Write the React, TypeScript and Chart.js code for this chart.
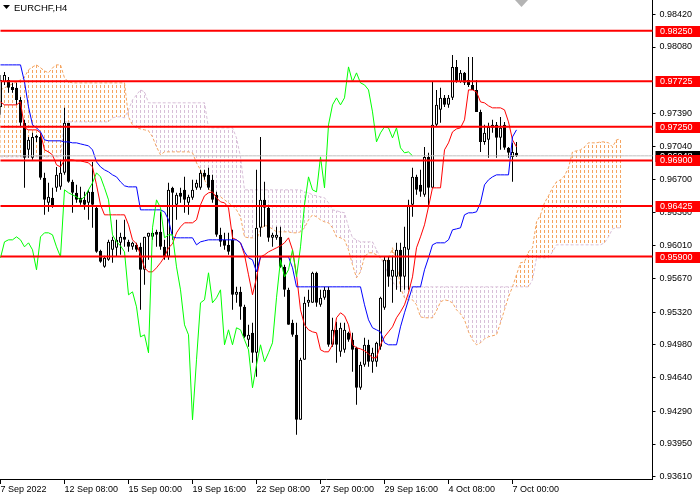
import { useEffect, useRef } from 'react';
import { Chart, registerables } from 'chart.js';

Chart.register(...registerables);

// EURCHF H4 candles, 7 Sep 16:00 .. 7 Oct 04:00
const opens = [
  0.97457, 0.97717, 0.97738, 0.97665, 0.97655, 0.97530, 0.97291, 0.97010, 0.96927, 0.97156,
  0.97145, 0.96719, 0.96459, 0.96511, 0.96615, 0.96625, 0.96771, 0.97291, 0.96677, 0.96563,
  0.96511, 0.96490, 0.96459, 0.96573, 0.96407, 0.95960, 0.95793, 0.95866, 0.95970, 0.95991,
  0.96043, 0.96105, 0.96053, 0.96001, 0.96022, 0.96001, 0.95762, 0.96105, 0.96105, 0.96157,
  0.96157, 0.96001, 0.95897, 0.96615, 0.96438, 0.96563, 0.96594, 0.96459, 0.96511, 0.96615,
  0.96615, 0.96771, 0.96750, 0.96698, 0.96542, 0.96126, 0.96074, 0.96022, 0.96074, 0.95502,
  0.95533, 0.95377, 0.95034, 0.95107, 0.94899, 0.96199, 0.96490, 0.96407, 0.96095, 0.96095,
  0.96105, 0.95793, 0.95554, 0.95211, 0.95086, 0.94202, 0.94826, 0.95419, 0.95419, 0.95731,
  0.95398, 0.95471, 0.95554, 0.94982, 0.95138, 0.94909, 0.94930, 0.95107, 0.95034, 0.94951,
  0.94535, 0.94774, 0.94982, 0.94805, 0.94805, 0.94961, 0.95367, 0.95866, 0.95689, 0.95689,
  0.95970, 0.95689, 0.95970, 0.96438, 0.96729, 0.96646, 0.96542, 0.96937, 0.96615, 0.97270,
  0.97426, 0.97551, 0.97478, 0.97551, 0.97873, 0.97717, 0.97811, 0.97738, 0.97686, 0.97634,
  0.97405, 0.97093, 0.97114, 0.97270, 0.97270, 0.97135, 0.97270, 0.97031, 0.96937, 0.96979,
];
const highs = [
  0.97790, 0.97821, 0.97769, 0.97707, 0.97707, 0.97561, 0.97322, 0.97145, 0.97187, 0.97166,
  0.97187, 0.96771, 0.96667, 0.96615, 0.96833, 0.96906, 0.97447, 0.97291, 0.96698, 0.96646,
  0.96625, 0.96573, 0.96594, 0.96885, 0.96417, 0.95970, 0.95908, 0.96074, 0.96105, 0.96282,
  0.96147, 0.96282, 0.96074, 0.96053, 0.96043, 0.96043, 0.96105, 0.96147, 0.96168, 0.96178,
  0.96365, 0.96074, 0.96667, 0.96625, 0.96563, 0.96615, 0.96729, 0.96542, 0.96698, 0.96698,
  0.96802, 0.96802, 0.96823, 0.96750, 0.96573, 0.96199, 0.96147, 0.96147, 0.96178, 0.95585,
  0.95585, 0.95398, 0.95190, 0.95211, 0.96802, 0.97145, 0.96677, 0.96438, 0.96147, 0.96209,
  0.96209, 0.95814, 0.95575, 0.95242, 0.95211, 0.94847, 0.95481, 0.95554, 0.95741, 0.95741,
  0.95554, 0.95585, 0.95585, 0.95263, 0.95221, 0.95211, 0.95211, 0.95117, 0.95107, 0.94961,
  0.94805, 0.95055, 0.95034, 0.94951, 0.95013, 0.95481, 0.95897, 0.95897, 0.95897, 0.96043,
  0.96043, 0.96209, 0.96490, 0.96823, 0.96750, 0.96802, 0.97041, 0.96979, 0.97717, 0.97634,
  0.97655, 0.97582, 0.97582, 0.97998, 0.97946, 0.97842, 0.97821, 0.97977, 0.97977, 0.97738,
  0.97426, 0.97270, 0.97291, 0.97322, 0.97301, 0.97353, 0.97301, 0.97041, 0.97083, 0.97093,
];
const lows = [
  0.97374, 0.97686, 0.97603, 0.97603, 0.97478, 0.97249, 0.96615, 0.96927, 0.96906, 0.97093,
  0.96698, 0.96334, 0.96365, 0.96407, 0.96573, 0.96594, 0.96750, 0.96667, 0.96355, 0.96459,
  0.96438, 0.96386, 0.96282, 0.96199, 0.95939, 0.95835, 0.95783, 0.95856, 0.95835, 0.95897,
  0.95918, 0.96001, 0.95949, 0.95970, 0.95949, 0.95346, 0.95606, 0.95866, 0.96074, 0.96001,
  0.95970, 0.95866, 0.95866, 0.96074, 0.96282, 0.96459, 0.96355, 0.96334, 0.96490, 0.96594,
  0.96594, 0.96698, 0.96594, 0.96459, 0.96105, 0.96001, 0.95970, 0.95918, 0.95346, 0.95419,
  0.95242, 0.95055, 0.94961, 0.94795, 0.94649, 0.96105, 0.96209, 0.96053, 0.96001, 0.96074,
  0.95783, 0.95481, 0.95190, 0.95065, 0.94046, 0.94202, 0.94826, 0.95377, 0.95419, 0.95377,
  0.95377, 0.95450, 0.94961, 0.94961, 0.94795, 0.94857, 0.94899, 0.95013, 0.94701, 0.94358,
  0.94514, 0.94753, 0.94753, 0.94691, 0.94753, 0.94930, 0.95346, 0.95585, 0.95419, 0.95554,
  0.95533, 0.95554, 0.95554, 0.96313, 0.96542, 0.96521, 0.96521, 0.96417, 0.96615, 0.97249,
  0.97291, 0.97457, 0.97447, 0.97530, 0.97707, 0.97707, 0.97686, 0.97665, 0.97634, 0.97405,
  0.96989, 0.97062, 0.96927, 0.97187, 0.96927, 0.97010, 0.97010, 0.96927, 0.96677, 0.96937,
];
const closes = [
  0.97738, 0.97790, 0.97655, 0.97634, 0.97530, 0.97291, 0.96927, 0.97114, 0.97145, 0.97135,
  0.96719, 0.96490, 0.96521, 0.96417, 0.96750, 0.96771, 0.97291, 0.96677, 0.96563, 0.96490,
  0.96459, 0.96438, 0.96573, 0.96438, 0.95949, 0.95845, 0.95887, 0.96053, 0.96074, 0.96074,
  0.96105, 0.96074, 0.96001, 0.96043, 0.95970, 0.95762, 0.96105, 0.96147, 0.96147, 0.96126,
  0.96001, 0.95897, 0.96594, 0.96563, 0.96542, 0.96521, 0.96490, 0.96521, 0.96594, 0.96667,
  0.96771, 0.96729, 0.96615, 0.96490, 0.96126, 0.96053, 0.96012, 0.95949, 0.95502, 0.95533,
  0.95377, 0.95065, 0.95086, 0.94899, 0.96199, 0.96490, 0.96407, 0.96095, 0.96126, 0.96126,
  0.95793, 0.95554, 0.95190, 0.95086, 0.94202, 0.94826, 0.95419, 0.95450, 0.95731, 0.95419,
  0.95471, 0.95554, 0.94982, 0.95138, 0.94982, 0.95159, 0.95138, 0.95034, 0.94930, 0.94535,
  0.94774, 0.94982, 0.94805, 0.94899, 0.95003, 0.95471, 0.95866, 0.95689, 0.95762, 0.95970,
  0.95689, 0.96001, 0.96438, 0.96729, 0.96594, 0.96573, 0.96937, 0.96615, 0.97270, 0.97478,
  0.97551, 0.97478, 0.97551, 0.97873, 0.97717, 0.97811, 0.97707, 0.97686, 0.97634, 0.97405,
  0.97093, 0.97187, 0.97249, 0.97239, 0.97135, 0.97239, 0.97031, 0.96979, 0.96989, 0.96948,
];

// Ichimoku lines
const tenkan = [
  0.97509, 0.97478, 0.97478, 0.97478, 0.97478, 0.97509, 0.97239, 0.97218, 0.97218, 0.97218,
  0.97187, 0.97010, 0.96989, 0.96958, 0.96854, 0.96833, 0.96906, 0.96906, 0.96906, 0.96896,
  0.96896, 0.96885, 0.96875, 0.96833, 0.96646, 0.96438, 0.96334, 0.96334, 0.96334, 0.96334,
  0.96334, 0.96334, 0.96230, 0.96074, 0.96032, 0.95918, 0.95783, 0.95741, 0.95741, 0.95783,
  0.95835, 0.95897, 0.95991, 0.96032, 0.96147, 0.96209, 0.96251, 0.96251, 0.96251, 0.96282,
  0.96438, 0.96532, 0.96563, 0.96573, 0.96511, 0.96469, 0.96459, 0.96407, 0.96095, 0.96074,
  0.96043, 0.95918, 0.95710, 0.95502, 0.95679, 0.95897, 0.95918, 0.95949, 0.95970, 0.95991,
  0.96012, 0.96043, 0.96095, 0.95970, 0.95710, 0.95346, 0.95190, 0.95138, 0.95117, 0.95107,
  0.94930, 0.94909, 0.94909, 0.94982, 0.95263, 0.95315, 0.95284, 0.95190, 0.94982, 0.94951,
  0.94940, 0.94920, 0.94888, 0.94847, 0.94847, 0.94982, 0.95065, 0.95117, 0.95169, 0.95263,
  0.95325, 0.95398, 0.95523, 0.95689, 0.95991, 0.96105, 0.96230, 0.96417, 0.96615, 0.96615,
  0.96615, 0.97010, 0.97083, 0.97197, 0.97228, 0.97239, 0.97322, 0.97634, 0.97634, 0.97613,
  0.97509, 0.97499, 0.97468, 0.97447, 0.97447, 0.97447, 0.97426, 0.97301, 0.97114, 0.97041,
];
const kijun = [
  0.97894, 0.97894, 0.97894, 0.97894, 0.97894, 0.97894, 0.97717, 0.97457, 0.97270, 0.97239,
  0.97197, 0.97114, 0.97104, 0.97104, 0.97104, 0.97104, 0.97093, 0.97093, 0.97083, 0.97083,
  0.97072, 0.97062, 0.97052, 0.97010, 0.96885, 0.96833, 0.96802, 0.96781, 0.96750, 0.96729,
  0.96677, 0.96636, 0.96625, 0.96625, 0.96625, 0.96386, 0.96386, 0.96386, 0.96386, 0.96386,
  0.96386, 0.96365, 0.96282, 0.96105, 0.96095, 0.96095, 0.96095, 0.96095, 0.96095, 0.96022,
  0.96053, 0.96064, 0.96074, 0.96074, 0.96074, 0.96074, 0.96074, 0.96074, 0.96074, 0.96074,
  0.96043, 0.95949, 0.95887, 0.95866, 0.95741, 0.95897, 0.95897, 0.95897, 0.95897, 0.95897,
  0.95897, 0.95897, 0.95897, 0.95783, 0.95585, 0.95585, 0.95585, 0.95585, 0.95585, 0.95585,
  0.95585, 0.95585, 0.95585, 0.95585, 0.95585, 0.95585, 0.95585, 0.95585, 0.95585, 0.95585,
  0.95585, 0.95398, 0.95242, 0.95159, 0.95138, 0.95117, 0.95003, 0.94982, 0.94982, 0.94982,
  0.95169, 0.95315, 0.95450, 0.95585, 0.95585, 0.95585, 0.95762, 0.95887, 0.96022, 0.96043,
  0.96043, 0.96043, 0.96074, 0.96178, 0.96188, 0.96199, 0.96334, 0.96355, 0.96355, 0.96365,
  0.96459, 0.96646, 0.96698, 0.96729, 0.96750, 0.96750, 0.96750, 0.96750, 0.97145, 0.97218,
];
// Senkou spans run 26 bars past the last candle
const spanA = [
  0.97634, 0.97655, 0.97676, 0.97696, 0.97717, 0.97738, 0.97769, 0.97842, 0.97873, 0.97894,
  0.97863, 0.97832, 0.97811, 0.97863, 0.97894, 0.97894, 0.97759, 0.97717, 0.97707, 0.97707,
  0.97707, 0.97707, 0.97707, 0.97707, 0.97707, 0.97707, 0.97707, 0.97707, 0.97707, 0.97707,
  0.97707, 0.97707, 0.97353, 0.97270, 0.97239, 0.97228, 0.97218, 0.97208, 0.97145, 0.97041,
  0.96958, 0.96989, 0.96989, 0.96989, 0.96989, 0.96989, 0.96989, 0.96989, 0.96979, 0.96875,
  0.96802, 0.96698, 0.96615, 0.96552, 0.96532, 0.96521, 0.96490, 0.96459, 0.96428, 0.96386,
  0.96313, 0.96105, 0.96095, 0.96095, 0.96074, 0.96178, 0.96230, 0.96209, 0.96188, 0.96157,
  0.96157, 0.96157, 0.96157, 0.96147, 0.96147, 0.96157, 0.96199, 0.96282, 0.96334, 0.96313,
  0.96282, 0.96261, 0.96251, 0.96199, 0.96105, 0.96095, 0.96074, 0.95970, 0.95814, 0.95679,
  0.95741, 0.95897, 0.95939, 0.95939, 0.95918, 0.95887, 0.95845, 0.95866, 0.95991, 0.95845,
  0.95575, 0.95471, 0.95450, 0.95450, 0.95398, 0.95273, 0.95263, 0.95263, 0.95263, 0.95336,
  0.95429, 0.95450, 0.95440, 0.95419, 0.95346, 0.95304, 0.95242, 0.95117, 0.95034, 0.94982,
  0.95003, 0.95044, 0.95065, 0.95076, 0.95086, 0.95211, 0.95346, 0.95481, 0.95585, 0.95710,
  0.95835, 0.95845, 0.95949, 0.95991, 0.96261, 0.96334, 0.96459, 0.96532, 0.96615, 0.96677,
  0.96698, 0.96740, 0.96823, 0.96989, 0.97000, 0.97010, 0.97041, 0.97083, 0.97083, 0.97083,
  0.97093, 0.97093, 0.97083, 0.97041, 0.97114, 0.97124,
];
const spanB = [
  0.96937, 0.96937, 0.96937, 0.96937, 0.96937, 0.96937, 0.96937, 0.96937, 0.96937, 0.96937,
  0.96937, 0.96937, 0.96937, 0.96937, 0.96937, 0.96937, 0.97301, 0.97301, 0.97301, 0.97301,
  0.97301, 0.97301, 0.97301, 0.97301, 0.97301, 0.97301, 0.97301, 0.97301, 0.97343, 0.97353,
  0.97353, 0.97343, 0.97426, 0.97530, 0.97582, 0.97634, 0.97613, 0.97499, 0.97499, 0.97499,
  0.97499, 0.97499, 0.97499, 0.97499, 0.97499, 0.97499, 0.97499, 0.97499, 0.97499, 0.97499,
  0.97499, 0.97499, 0.97239, 0.97239, 0.97239, 0.97239, 0.97239, 0.97239, 0.97239, 0.97135,
  0.96937, 0.96594, 0.96594, 0.96594, 0.96594, 0.96594, 0.96594, 0.96594, 0.96594, 0.96594,
  0.96594, 0.96594, 0.96594, 0.96594, 0.96594, 0.96594, 0.96573, 0.96563, 0.96542, 0.96532,
  0.96521, 0.96511, 0.96459, 0.96386, 0.96376, 0.96365, 0.96355, 0.96209, 0.96095, 0.96074,
  0.96053, 0.96053, 0.96053, 0.96053, 0.95970, 0.95887, 0.95814, 0.95710, 0.95637, 0.95585,
  0.95585, 0.95585, 0.95585, 0.95585, 0.95585, 0.95585, 0.95585, 0.95585, 0.95585, 0.95585,
  0.95585, 0.95585, 0.95585, 0.95585, 0.95585, 0.95585, 0.95585, 0.95585, 0.95585, 0.95585,
  0.95585, 0.95585, 0.95585, 0.95585, 0.95585, 0.95585, 0.95585, 0.95585, 0.95585, 0.95585,
  0.95585, 0.95585, 0.95585, 0.95658, 0.95887, 0.95887, 0.95887, 0.95887, 0.95949, 0.96022,
  0.96022, 0.96022, 0.96022, 0.96022, 0.96022, 0.96022, 0.96022, 0.96022, 0.96022, 0.96022,
  0.96022, 0.96043, 0.96105, 0.96188, 0.96199, 0.96199,
];
// chikou span = close plotted 26 bars back
const chikou = closes.slice(26);

const levels = [0.9825, 0.97725, 0.9725, 0.969, 0.96425, 0.959];
const priceTicks = [
  0.9842, 0.9808, 0.9739, 0.9704, 0.967, 0.9636, 0.9601,
  0.9567, 0.9532, 0.9498, 0.9464, 0.9429, 0.9395, 0.9361,
];
const timeTicks = [
  '7 Sep 2022', '12 Sep 08:00', '15 Sep 00:00', '19 Sep 16:00', '22 Sep 08:00',
  '27 Sep 00:00', '29 Sep 16:00', '4 Oct 08:00', '7 Oct 00:00',
];
const TICK_STEP = 16; // one time label every 16 bars
const SLOTS = 164; // candles + projected cloud + chart shift
const bid = closes[closes.length - 1];
const FONT = '"Liberation Sans", Arial, sans-serif';

function dots(color: string) {
  const c = document.createElement('canvas');
  c.width = 1;
  c.height = 5;
  const g = c.getContext('2d')!;
  g.fillStyle = color;
  g.fillRect(0, 0, 1, 3);
  return g.createPattern(c, 'repeat')!;
}

const overlay = {
  id: 'mt4Overlay',
  afterDraw(chart: any) {
    const { ctx, chartArea, scales } = chart;
    const y = scales.y;
    ctx.save();
    ctx.font = `9px ${FONT}`;
    ctx.textBaseline = 'middle';
    ctx.textAlign = 'left';
    const tag = (v: number, bg: string) => {
      const py = Math.round(y.getPixelForValue(v));
      ctx.fillStyle = bg;
      ctx.fillRect(chartArea.right + 3, py - 5, chart.width - chartArea.right - 3, 11);
      ctx.fillStyle = '#ffffff';
      ctx.fillText(v.toFixed(5), chartArea.right + 7.5, py + 0.5);
    };
    tag(bid, '#000000');
    levels.forEach((l) => tag(l, '#ff0000'));

    // symbol caption
    ctx.fillStyle = '#000000';
    ctx.beginPath();
    ctx.moveTo(3, 5);
    ctx.lineTo(10, 5);
    ctx.lineTo(6.5, 9);
    ctx.closePath();
    ctx.fill();
    ctx.font = `9.5px ${FONT}`;
    ctx.fillText('EURCHF,H4', 14, 8);

    // chart shift marker
    ctx.fillStyle = '#b4b4b4';
    ctx.beginPath();
    ctx.moveTo(515, 0);
    ctx.lineTo(528, 0);
    ctx.lineTo(521.5, 7);
    ctx.closePath();
    ctx.fill();
    ctx.restore();
  },
};

export default function App() {
  const canvasRef = useRef<HTMLCanvasElement | null>(null);

  useEffect(() => {
    document.body.style.margin = '0';
    if (!canvasRef.current) return;
    const ctx = canvasRef.current.getContext('2d');
    if (!ctx) return;

    const orangeDots = dots('#f4a460');
    const thistleDots = dots('#d8bfd8');
    const labels = Array.from({ length: SLOTS }, (_, i) => String(i));

    const line = (data: number[], color: string, order: number, width = 1, dash: number[] = []) => ({
      type: 'line' as const,
      data,
      borderColor: color,
      borderWidth: width,
      borderDash: dash,
      pointRadius: 0,
      fill: false,
      tension: 0,
      order,
    });

    const chart = new Chart(ctx, {
      type: 'line',
      data: {
        labels,
        datasets: [
          ...levels.map((l) => line(labels.map(() => l), '#ff0000', 0, 2)),
          line(labels.map(() => bid), '#c0c0c0', 1),
          line(chikou, '#00ff00', 2),
          line(kijun, '#0000ff', 2),
          line(tenkan, '#ff0000', 2),
          {
            type: 'bar' as const,
            data: opens.map((o, i) => [o, closes[i]]),
            backgroundColor: opens.map((o, i) => (closes[i] >= o ? '#ffffff' : '#000000')),
            borderColor: '#000000',
            borderWidth: 1,
            borderSkipped: false,
            barThickness: 3,
            grouped: false,
            inflateAmount: 0,
            order: 3,
          },
          {
            type: 'bar' as const,
            data: lows.map((l, i) => [l, highs[i]]),
            backgroundColor: '#000000',
            borderWidth: 0,
            barThickness: 1,
            grouped: false,
            inflateAmount: 0,
            order: 4,
          },
          line(spanA, '#f4a460', 5, 1, [3, 2]),
          line(spanB, '#d8bfd8', 5, 1, [3, 2]),
          {
            type: 'bar' as const,
            data: spanA.map((a, i) => [a, spanB[i]]),
            backgroundColor: spanA.map((a, i) => (a >= spanB[i] ? orangeDots : thistleDots)),
            borderWidth: 0,
            barThickness: 1,
            grouped: false,
            inflateAmount: 0,
            order: 6,
          },
        ] as any,
      },
      options: {
        animation: false,
        responsive: false,
        events: [],
        layout: { padding: { left: 0.5, top: 0, right: 0, bottom: 0 }, autoPadding: false },
        plugins: { legend: { display: false }, tooltip: { enabled: false } },
        scales: {
          x: {
            type: 'category',
            offset: false,
            grid: {
              offset: false,
              drawOnChartArea: false,
              drawTicks: true,
              tickLength: 5,
              tickColor: '#000000',
              color: '#000000',
            },
            border: { display: true, color: '#000000', width: 1 },
            ticks: {
              autoSkip: false,
              maxRotation: 0,
              minRotation: 0,
              align: 'start',
              padding: 0,
              color: '#000000',
              font: { family: FONT, size: 9 },
              callback: (v: any) => timeTicks[Number(v) / TICK_STEP] ?? '',
            },
            afterBuildTicks: (scale: any) => {
              scale.ticks = scale.ticks.filter(
                (t: any) => t.value % TICK_STEP === 0 && t.value / TICK_STEP < timeTicks.length,
              );
            },
            afterFit: (scale: any) => {
              scale.height = 21;
              scale.paddingLeft = 0;
              scale.paddingRight = 0;
            },
          },
          y: {
            position: 'right',
            min: 0.93586,
            max: 0.98569,
            grid: {
              drawOnChartArea: false,
              drawTicks: true,
              tickLength: 3,
              tickColor: '#000000',
              color: '#000000',
            },
            border: { display: true, color: '#000000', width: 1 },
            ticks: {
              padding: 4,
              color: '#000000',
              font: { family: FONT, size: 9 },
              callback: (v: any) => Number(v).toFixed(5),
            },
            afterBuildTicks: (scale: any) => {
              scale.ticks = priceTicks.map((value) => ({ value }));
            },
            afterFit: (scale: any) => {
              scale.width = 47.5;
              scale.paddingTop = 0;
              scale.paddingBottom = 0;
            },
          },
        },
      } as any,
      plugins: [overlay],
    });

    return () => chart.destroy();
  }, []);

  return <canvas ref={canvasRef} width={700} height={500} style={{ display: 'block' }} />;
}
